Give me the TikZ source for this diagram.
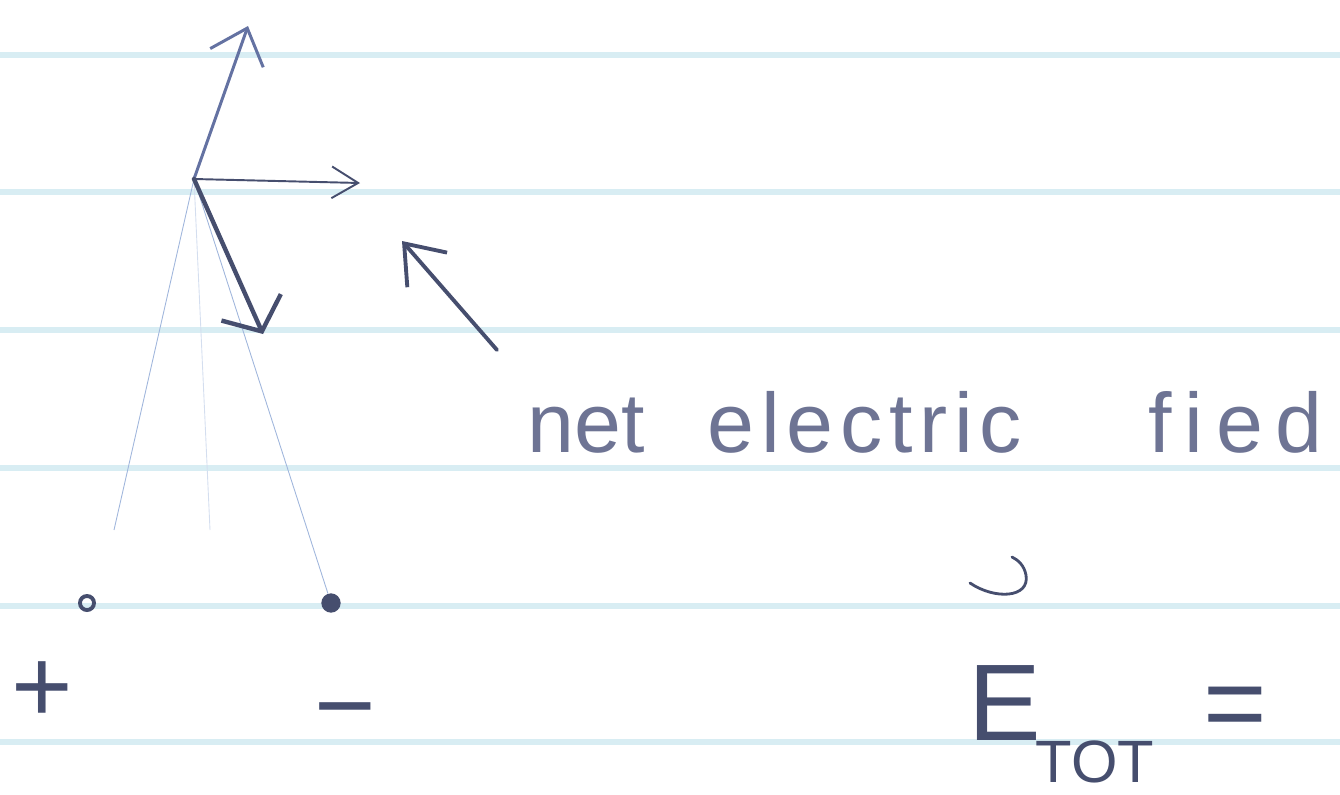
\documentclass[tikz,border=0pt]{standalone}
\usepackage{fontspec}
\setmainfont{Liberation Sans}
\newfontfamily\handfont{Liberation Sans}
\usetikzlibrary{arrows.meta}
\definecolor{ruled}{RGB}{216,237,243}
\definecolor{ink}{RGB}{70,78,110}
\definecolor{inklight}{RGB}{100,114,162}
\definecolor{pencil}{RGB}{160,182,220}
\definecolor{textink}{RGB}{110,116,148}
\tikzset{
  ruleline/.style={draw=ruled, line width=3pt},
  guide/.style={draw=pencil, line width=0.5pt},
  faintguide/.style={draw=pencil!45, line width=0.5pt},
  vecup/.style={draw=inklight, line width=1.7pt, line cap=round,
    -{Straight Barb[length=18pt, width=32pt]}},
  vecright/.style={draw=ink, line width=1.1pt, line cap=round,
    -{Straight Barb[length=15pt, width=18pt]}},
  vecdown/.style={draw=ink, line width=2.5pt, line cap=round,
    -{Straight Barb[length=15pt, width=37pt]}},
  vecnet/.style={draw=ink, line width=2.2pt, line cap=round,
    -{Straight Barb[length=20pt, width=30pt]}},
  poscharge/.style={circle, draw=ink, line width=2.2pt, inner sep=0pt, minimum size=8pt},
  negcharge/.style={circle, fill=ink, inner sep=0pt, minimum size=11pt},
  signtext/.style={inner sep=0pt, text=ink, font=\fontsize{60}{62}\selectfont},
  handtext/.style={inner sep=0pt, text=textink, font=\handfont\fontsize{48}{56}\selectfont},
  eqtext/.style={inner sep=0pt, text=ink, font=\fontsize{62}{70}\selectfont},
  hatstroke/.style={draw=ink, line width=1.6pt, line cap=round}
}

\begin{document}
\begin{tikzpicture}[x=0.02cm, y=-0.02cm]
\useasboundingbox (0,0) rectangle (1340,795);
\foreach \y in {55,192,330,468,606,742}
  \draw[ruleline] (0,\y) -- (1340,\y);

\coordinate (P) at (194,179);
\coordinate (upend) at (248,26);
\coordinate (rightend) at (360,183);
\coordinate (downend) at (263,334);
\coordinate (nettail) at (497,350);
\coordinate (nethead) at (402,241);
\coordinate (leftend) at (114,530);
\coordinate (axisend) at (210,530);

\node[poscharge] (qplus) at (87,603) {};
\node[negcharge] (qminus) at (331,603) {};
\node[signtext] (plus) at (42,692) {+};
\node[signtext] (minus) at (345,722) {−};

\draw[guide] (P) -- (leftend);
\draw[guide] (P) -- (qminus);
\draw[faintguide] (P) -- (axisend);

\draw[vecup] (P) -- (upend);
\draw[vecright] (P) -- (rightend);
\draw[vecdown] (P) -- (downend);
\draw[vecnet] (nettail) -- (nethead);

\node[handtext, anchor=base west] (netlabel) at (527,452)
  {net\hspace{36pt}{\addfontfeature{LetterSpace=8}electric}\hspace{72pt}{\addfontfeature{LetterSpace=15}fied}};

\node[eqtext, anchor=base west] (etot) at (968,740)
  {E\hspace{-3pt}\raisebox{-24pt}{\fontsize{34}{40}\selectfont TOT}\hspace{28pt}=};
\draw[hatstroke] (970,583) .. controls (995,600) and (1030,598) .. (1026,575)
  .. controls (1024,565) and (1018,560) .. (1012,557);
\end{tikzpicture}
\end{document}
